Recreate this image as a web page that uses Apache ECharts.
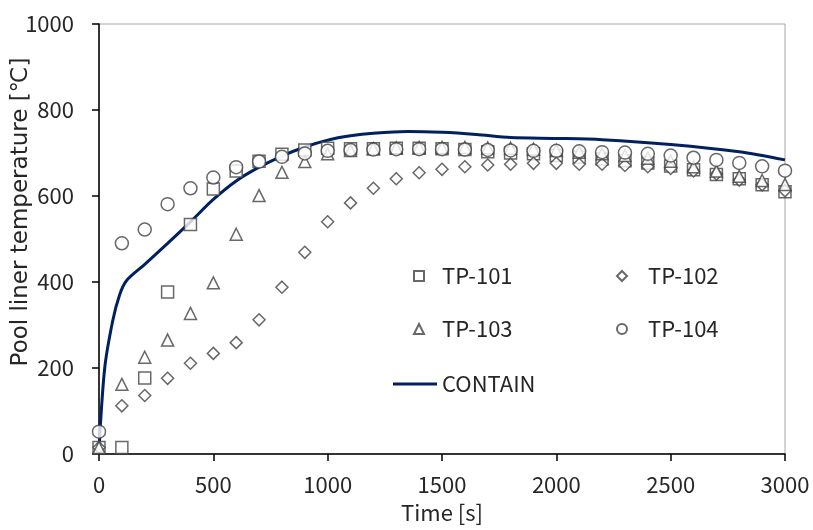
<!DOCTYPE html>
<html>
<head>
<meta charset="utf-8">
<script src="https://cdn.jsdelivr.net/npm/echarts@6/dist/echarts.min.js"></script>
<style>
  html, body { margin: 0; padding: 0; background: #fff; }
  #chart { width: 813px; height: 530px; }
</style>
</head>
<body>
<div id="chart"></div>
<script>
// 测点时间 (s)
var times = [0, 100, 200, 300, 400, 500, 600, 700, 800, 900, 1000, 1100, 1200, 1300, 1400, 1500,
  1600, 1700, 1800, 1900, 2000, 2100, 2200, 2300, 2400, 2500, 2600, 2700, 2800, 2900, 3000];

var tp101 = [15, 15, 177, 377, 534, 616, 658, 681, 697, 707, 711, 710, 710, 711, 711, 710,
  708, 703, 700, 698, 694, 690, 686, 682, 677, 670, 661, 650, 640, 626, 610];
var tp102 = [15, 112, 136, 176, 211, 234, 259, 312, 388, 469, 540, 584, 618, 640, 654, 662,
  668, 672, 674, 676, 676, 674, 674, 671, 668, 664, 658, 651, 637, 626, 612];
var tp103 = [15, 162, 225, 265, 327, 398, 511, 601, 655, 680, 698, 706, 710, 712, 713, 713,
  713, 712, 711, 709, 706, 702, 698, 694, 688, 681, 668, 658, 646, 636, 627];
var tp104 = [52, 490, 522, 581, 618, 643, 667, 680, 691, 699, 705, 707, 708, 709, 709, 709,
  708, 707, 706, 705, 705, 704, 702, 701, 698, 694, 689, 684, 677, 669, 659];

// CONTAIN 计算曲线
var containTime = [0, 25, 60, 90, 120, 200, 300, 400, 500, 600, 700, 800, 900, 1000, 1100,
  1200, 1350, 1500, 1650, 1800, 2000, 2200, 2500, 2800, 3000];
var containTemp = [10, 200, 310, 370, 403, 441, 490, 540, 592, 635, 667, 693, 714, 730, 740,
  746, 750, 748, 743, 736, 734, 731, 720, 703, 684];

var xTicks = [0, 500, 1000, 1500, 2000, 2500, 3000];
var yTicks = [0, 200, 400, 600, 800, 1000];

var font = '"Noto Sans CJK JP", "Noto Sans", sans-serif';
var markColor = '#424242';

function pairs(xs, ys) {
  return xs.map(function (x, i) { return [x, ys[i]]; });
}

function scatter(name, values, symbol, size) {
  return {
    name: name,
    type: 'scatter',
    symbol: symbol,
    symbolSize: size,
    data: pairs(times, values),
    itemStyle: { color: '#fff', borderColor: markColor, borderWidth: 1.5 },
    z: 3
  };
}

// 单个图例项
function legendItem(item, left, top, w, h, gap) {
  return {
    data: [item],
    left: left,
    top: top,
    padding: 0,
    itemWidth: w,
    itemHeight: h,
    selectedMode: false,
    textStyle: { fontFamily: font, fontSize: 22, color: '#262626', padding: [0, 0, 0, gap] }
  };
}

var option = {
  animation: false,
  backgroundColor: '#fff',
  grid: {
    left: 99, right: 28, top: 24, bottom: 76,
    outerBoundsMode: 'none',
    containLabel: false,
    show: true, borderColor: '#a6a6a6', borderWidth: 1
  },
  legend: [
    legendItem('TP-101', 413, 265, 10, 10, 13),
    legendItem('TP-102', 616, 265, 10, 10, 16),
    legendItem('TP-103', 413, 318, 10, 10, 13),
    legendItem('TP-104', 616, 318, 10, 10, 16),
    legendItem({ name: 'CONTAIN', icon: 'rect' }, 393, 373, 44, 3, 0)
  ],
  xAxis: {
    type: 'value',
    min: xTicks[0],
    max: xTicks[xTicks.length - 1],
    interval: 500,
    name: 'Time [s]',
    nameLocation: 'middle',
    nameGap: 48,
    nameMoveOverlap: false,
    nameTextStyle: { fontFamily: font, fontSize: 22, color: '#262626' },
    axisLine: { lineStyle: { color: '#000', width: 1.5 } },
    axisTick: { inside: false, length: 7, lineStyle: { color: '#000', width: 1.5 } },
    axisLabel: {
      margin: 20, fontFamily: font, fontSize: 22, color: '#262626',
      formatter: function (v) { return String(v); }
    },
    splitLine: { show: false }
  },
  yAxis: {
    type: 'value',
    min: yTicks[0],
    max: yTicks[yTicks.length - 1],
    interval: 200,
    name: 'Pool liner temperature [℃]',
    nameLocation: 'middle',
    nameGap: 66,
    nameMoveOverlap: false,
    // 纵轴标题偏上，用 padding 挪一下
    nameTextStyle: { fontFamily: '"DejaVu Sans", sans-serif', fontSize: 23, color: '#262626', padding: [0, 0, 0, 54] },
    axisLine: { lineStyle: { color: '#000', width: 1.5 } },
    axisTick: { inside: false, length: 7, lineStyle: { color: '#000', width: 1.5 } },
    axisLabel: {
      margin: 25, fontFamily: font, fontSize: 22, color: '#262626',
      formatter: function (v) { return String(v); }
    },
    splitLine: { show: false }
  },
  series: [
    {
      name: 'CONTAIN',
      type: 'line',
      data: pairs(containTime, containTemp),
      symbol: 'none',
      smooth: 0.3,
      lineStyle: { color: '#002060', width: 3 },
      itemStyle: { color: '#002060' },
      z: 2
    },
    scatter('TP-101', tp101, 'rect', 12),
    scatter('TP-102', tp102, 'diamond', 12),
    scatter('TP-103', tp103, 'triangle', 12),
    scatter('TP-104', tp104, 'circle', 13)
  ]
};

var myChart = echarts.init(document.getElementById('chart'));
myChart.setOption(option);
</script>
</body>
</html>
